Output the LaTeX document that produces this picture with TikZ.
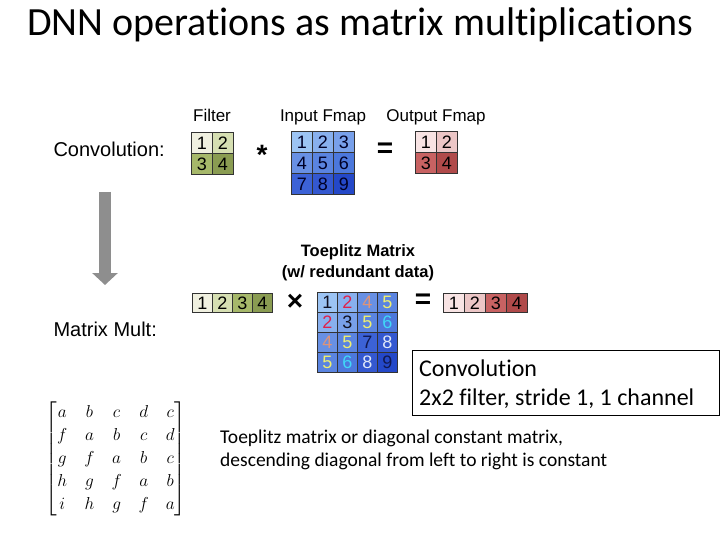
\documentclass[tikz,border=0pt]{standalone}
\usepackage{amsmath}
\usepackage{fontspec}
\setmainfont{Carlito}[Ligatures={NoCommon}]
\newfontfamily\arialfont{Liberation Sans}
\usetikzlibrary{arrows.meta,positioning}
\definecolor{filt1}{HTML}{F0F0E0}
\definecolor{filt2}{HTML}{D6DFB2}
\definecolor{filt3}{HTML}{A6B86A}
\definecolor{filt4}{HTML}{8A9C52}
\definecolor{fmap1}{HTML}{9CC4F4}
\definecolor{fmap2}{HTML}{88B0EE}
\definecolor{fmap3}{HTML}{78A0EA}
\definecolor{fmap4}{HTML}{6890E4}
\definecolor{fmap5}{HTML}{5A84E0}
\definecolor{fmap6}{HTML}{4C78DC}
\definecolor{fmap7}{HTML}{3C62D6}
\definecolor{fmap8}{HTML}{3458D0}
\definecolor{fmap9}{HTML}{2448C8}
\definecolor{outp1}{HTML}{F8E4E4}
\definecolor{outp2}{HTML}{ECC6C6}
\definecolor{outp3}{HTML}{C86262}
\definecolor{outp4}{HTML}{B04A4A}
\definecolor{tnum1}{HTML}{101020}
\definecolor{tnum2}{HTML}{E0204A}
\definecolor{tnum3}{HTML}{101020}
\definecolor{tnum4}{HTML}{E09478}
\definecolor{tnum5}{HTML}{F0F070}
\definecolor{tnum6}{HTML}{40D8F8}
\definecolor{tnum7}{HTML}{101850}
\definecolor{tnum8}{HTML}{E0E8F8}
\definecolor{tnum9}{HTML}{101850}
\definecolor{arrowgray}{HTML}{8E8E8E}
\begin{document}
\begin{tikzpicture}[x=1pt,y=-1pt,
label/.style={font=\arialfont\fontsize{17}{19}\selectfont,anchor=base},
cell/.style={draw=black!80,line width=0.9pt,inner sep=0pt,anchor=north west,
  minimum width=21pt,minimum height=21pt,font=\arialfont\fontsize{18}{18}\selectfont},
rowcell/.style={cell,minimum width=20pt,minimum height=19pt},
op/.style={font=\arialfont\bfseries\fontsize{28}{28}\selectfont}]
\useasboundingbox (0,0) rectangle (720,540);
\node[anchor=base,font=\fontsize{40}{44}\selectfont] (title) at (360,36) {DNN operations as matrix multiplications};
\node[label,anchor=base west,font=\arialfont\fontsize{20}{22}\selectfont] (conv) at (50,157) {Convolution:};
\node[label,anchor=base west,font=\arialfont\fontsize{20}{22}\selectfont] (mult) at (50,336) {Matrix Mult:};
\coordinate (arrtop) at (105,192);
\coordinate (arrtip) at (105,285);
\draw[arrowgray,line width=12pt,-{Triangle[width=25pt,length=12pt]}] (arrtop)--(arrtip);
\node[label] (filtlab) at (212,122) {Filter};
\node[label] (inlab) at (323,122) {Input Fmap};
\node[label] (outlab) at (436,122) {Output Fmap};
\foreach \c/\r/\v in {0/0/1,1/0/2,0/1/3,1/1/4}
  \node[cell,fill=filt\v] (filt-\v) at (191+21*\c,132+21*\r) {\v};
\foreach \c/\r/\v in {0/0/1,1/0/2,2/0/3,0/1/4,1/1/5,2/1/6,0/2/7,1/2/8,2/2/9}
  \node[cell,fill=fmap\v,text=black!85!blue] (in-\v) at (291+21*\c,131+21*\r) {\v};
\foreach \c/\r/\v in {0/0/1,1/0/2,0/1/3,1/1/4}
  \node[cell,fill=outp\v] (out-\v) at (415+21*\c,131+21*\r) {\v};
\node[op] (star) at (262,155) {*};
\node[op] (eqa) at (385,150) {=};
\node[label,font=\arialfont\bfseries\fontsize{16.5}{18}\selectfont] (toeplab) at (358,256) {Toeplitz Matrix};
\node[label,font=\arialfont\bfseries\fontsize{16.5}{18}\selectfont] (toeplabb) at (358,277) {(w/ redundant data)};
\foreach \v [count=\i from 0] in {1,2,3,4}
  \node[rowcell,fill=filt\v] (vec-\v) at (192+20*\i,293) {\v};
\foreach \c/\r/\v in {0/0/1,1/0/2,2/0/4,3/0/5,0/1/2,1/1/3,2/1/5,3/1/6,
  0/2/4,1/2/5,2/2/7,3/2/8,0/3/5,1/3/6,2/3/8,3/3/9}
  \node[cell,minimum width=20pt,minimum height=20pt,fill=fmap\v,text=tnum\v] (toep-\r\c) at (317+20*\c,292+20*\r) {\v};
\foreach \v [count=\i from 0] in {1,2,3,4}
  \node[rowcell,minimum width=21pt,fill=outp\v] (res-\v) at (443+21*\i,293) {\v};
\node[op] (times) at (295,302) {×};
\node[op] (eqb) at (423,301) {=};
\node[draw,line width=0.8pt,anchor=north west,minimum width=307pt,minimum height=65pt] (convbox) at (412,350) {};
\node[anchor=base west,inner sep=0pt,font=\fontsize{24}{28}\selectfont] (convtxt) at (419,376) {Convolution};
\node[anchor=base west,inner sep=0pt,font=\fontsize{24}{28}\selectfont] (convtxtb) at (419,405) {2x2 filter, stride 1, 1 channel};
\node[anchor=base west,inner sep=0pt,font=\fontsize{19.5}{22}\selectfont] (capa) at (220,443) {Toeplitz matrix or diagonal constant matrix,};
\node[anchor=base west,inner sep=0pt,font=\fontsize{19.5}{22}\selectfont] (capb) at (220,466) {descending diagonal from left to right is constant};
\node[inner sep=0pt,font=\fontsize{17}{20}\selectfont] (toepmat) at (116,459)
  {$\setlength{\arraycolsep}{8.5pt}\renewcommand{\arraystretch}{1.15}
  \begin{bmatrix} a&b&c&d&c\\ f&a&b&c&d\\ g&f&a&b&c\\ h&g&f&a&b\\ i&h&g&f&a \end{bmatrix}$};
\end{tikzpicture}
\end{document}
